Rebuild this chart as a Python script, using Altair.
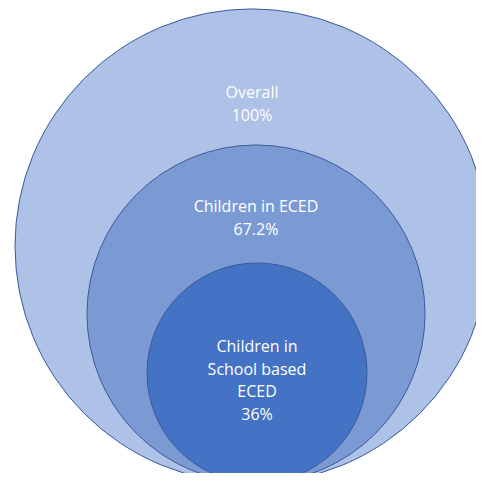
import altair as alt
import pandas as pd

# Data
groups = ["Overall", "Children in ECED", "Children in School based ECED"]
shares = ["100%", "67.2%", "36%"]
labels = ["Overall\n100%", "Children in ECED\n67.2%", "Children in\nSchool based\nECED\n36%"]

# Layout (pixel units of the picture)
radius = [237, 169, 110]
center_x = [252, 256, 257]
bottom_y = 483
label_y = [93, 207, 347]
colors = ["#AEC1E6", "#7B9AD4", "#4472C4"]

W, H = 468, 465

circles = pd.DataFrame({
    "group": groups,
    "share": shares,
    "cx": center_x,
    "cy": [bottom_y - r for r in radius],
    "size": [(2 * r) ** 2 for r in radius],
    "order": [0, 1, 2],
})
texts = pd.DataFrame({
    "group": groups,
    "label": labels,
    "lx": center_x,
    "ly": label_y,
})

xs = alt.Scale(domain=[8, 8 + W], nice=False, zero=False)
ys = alt.Scale(domain=[8 + H, 8], nice=False, zero=False)

base_circles = alt.Chart(circles).mark_point(
    shape="circle", filled=True, opacity=1, stroke="#3A5A9A", strokeWidth=1
).encode(
    x=alt.X("cx:Q", scale=xs, axis=None),
    y=alt.Y("cy:Q", scale=ys, axis=None),
    size=alt.Size("size:Q", scale=None, legend=None),
    color=alt.Color("group:N", scale=alt.Scale(domain=groups, range=colors), legend=None),
    order=alt.Order("order:Q"),
    tooltip=["group:N", "share:N"],
)

label_layer = alt.Chart(texts).mark_text(
    color="white", font="Open Sans", fontSize=16, lineHeight=22.5,
    align="center", baseline="middle", lineBreak="\n"
).encode(
    x=alt.X("lx:Q", scale=xs, axis=None),
    y=alt.Y("ly:Q", scale=ys, axis=None),
    text="label:N",
)

chart = alt.layer(base_circles, label_layer).properties(
    width=W, height=H, padding=0, autosize="none"
).configure_view(stroke=None)

chart.save("out.html", embed_options={"renderer": "svg", "actions": False})
